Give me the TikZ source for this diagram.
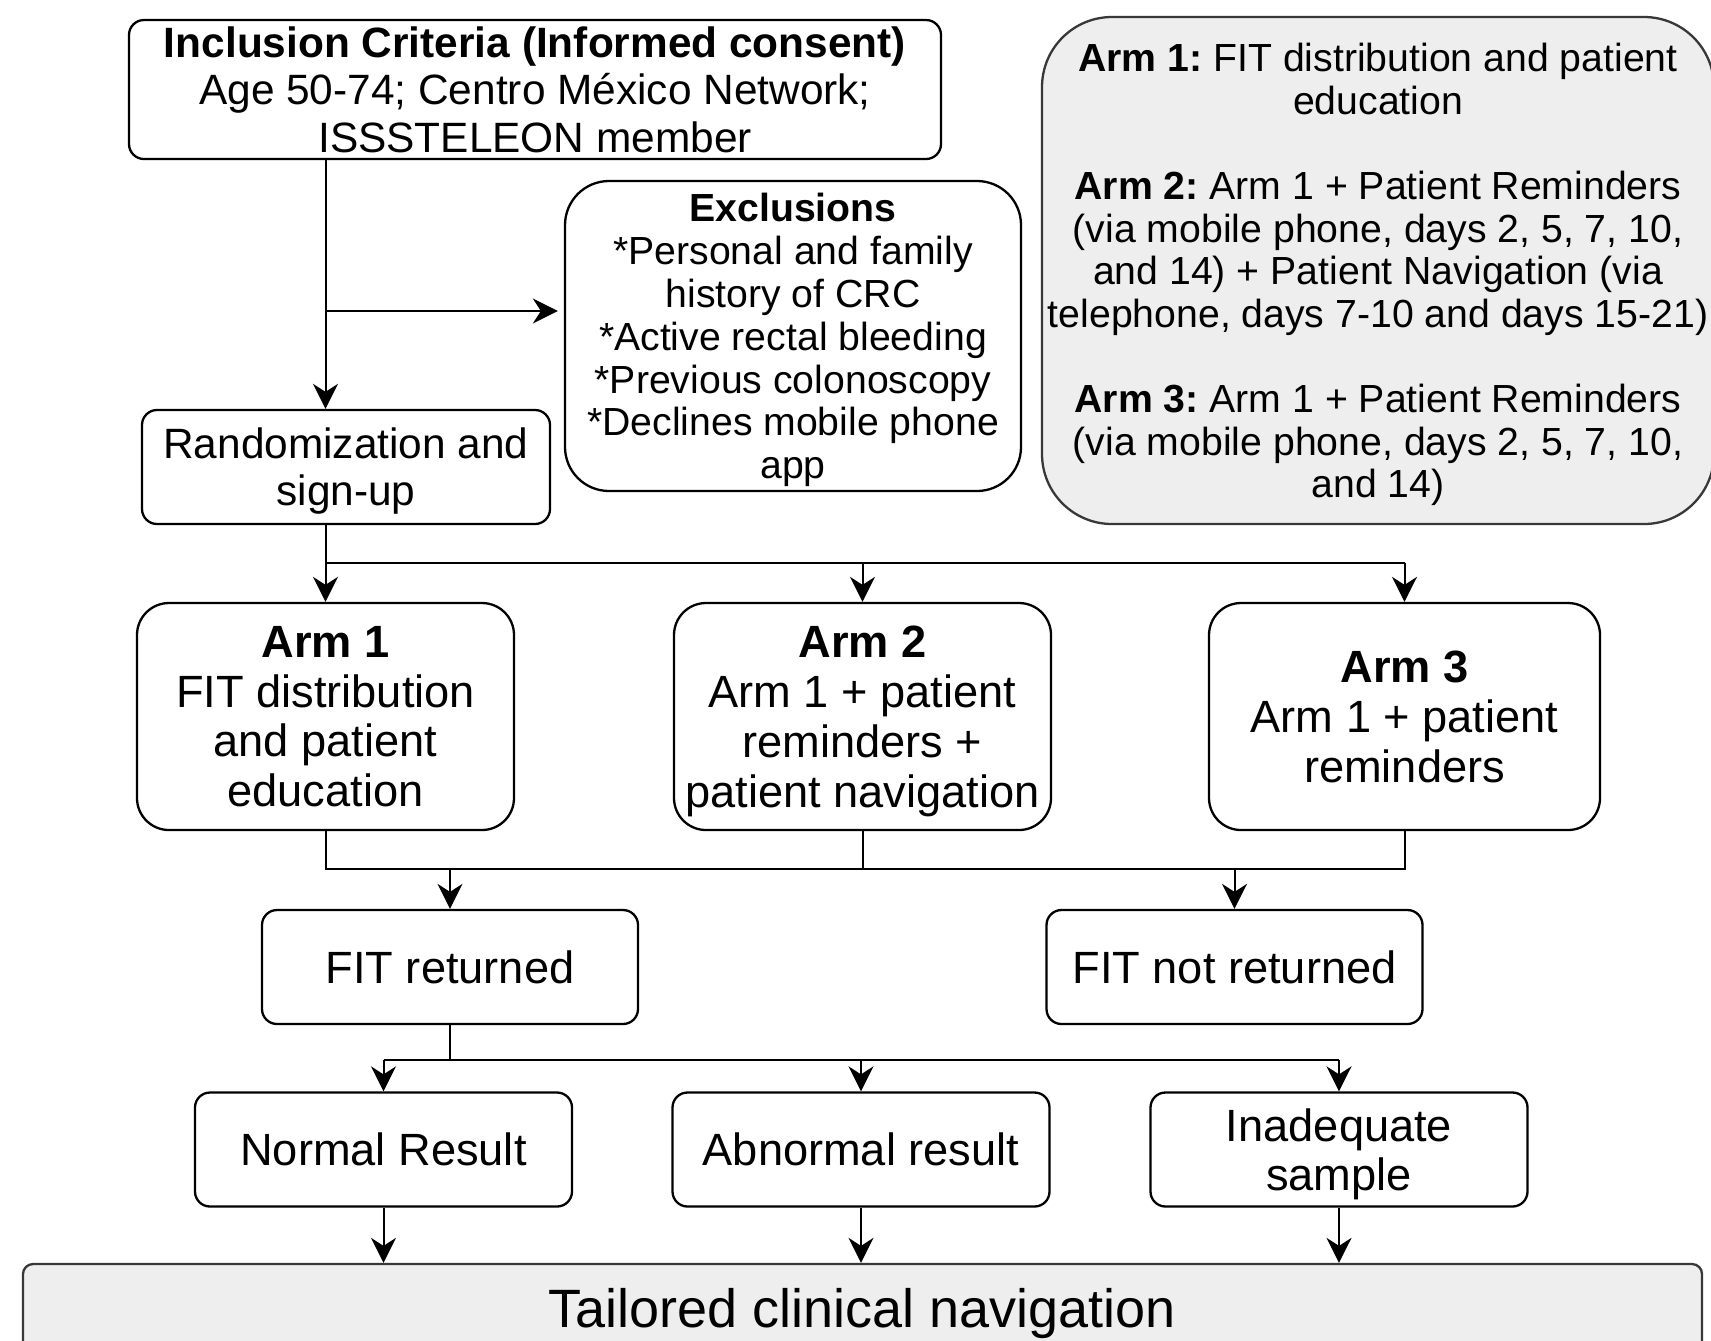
\documentclass[tikz,border=0pt]{standalone}
\usepackage{fontspec}
\setmainfont{Liberation Sans}
\frenchspacing
\usetikzlibrary{arrows.meta,calc}
\definecolor{PanelGray}{HTML}{EEEEEE}
\definecolor{EdgeGray}{HTML}{383838}

\begin{document}
\begin{tikzpicture}[x=0.5pt,y=-0.5pt,
  box/.style={draw,line width=1.15pt,rounded corners=7.5pt,align=center,inner sep=0pt,text depth=0pt},
  armbox/.style={box,rounded corners=16pt,minimum width=188.5pt,minimum height=113.5pt,font=\fontsize{22.6}{24.9}\selectfont},
  outbox/.style={box,minimum width=188pt,minimum height=57pt,font=\fontsize{22.6}{24.5}\selectfont},
  panel/.style={box,draw=EdgeGray,fill=PanelGray},
  arr/.style={-{Stealth[length=12.5pt,width=12.5pt,inset=4pt]},line width=1pt},
  lnk/.style={line width=1pt}
]
\useasboundingbox (0,0) rectangle (1711,1340);
\node[box,minimum width=406pt,minimum height=69.5pt,font=\fontsize{21.2}{23.7}\selectfont] (incl) at (535,89.5) {\textbf{Inclusion Criteria (Informed consent)}\\Age 50-74; Centro México Network;\\ISSSTELEON member};
\node[box,rounded corners=22pt,minimum width=228pt,minimum height=155pt,font=\fontsize{19.6}{21.4}\selectfont] (excl) at (793,336) {\textbf{Exclusions}\\*Personal and family\\history of CRC\\*Active rectal bleeding\\*Previous colonoscopy\\*Declines mobile phone\\app};
\node[panel,rounded corners=35pt,minimum width=336pt,minimum height=253.5pt,font=\fontsize{19.6}{21.3}\selectfont] (legend) at (1378,270.5) {\textbf{Arm 1:} FIT distribution and patient\\education\\[21.3pt]\textbf{Arm 2:} Arm 1 + Patient Reminders\\(via mobile phone, days 2, 5, 7, 10,\\and 14) + Patient Navigation (via\\telephone, days 7-10 and days 15-21)\\[21.3pt]\textbf{Arm 3:} Arm 1 + Patient Reminders\\(via mobile phone, days 2, 5, 7, 10,\\and 14)};
\node[box,minimum width=204pt,minimum height=57pt,font=\fontsize{21.2}{23.5}\selectfont] (rand) at (346,467) {Randomization and\\sign-up};
% the three arms
\node[armbox] (arm1) at (325.5,716.5) {\textbf{Arm 1}\\FIT distribution\\and patient\\education};
\node[armbox] (arm2) at (862.5,716.5) {\textbf{Arm 2}\\Arm 1 + patient\\reminders +\\patient navigation};
\node[armbox,minimum width=195.5pt] (arm3) at (1404.5,716.5) {\textbf{Arm 3}\\Arm 1 + patient\\reminders};
% outcomes
\node[outbox] (fitret) at (450,967) {FIT returned};
\node[outbox] (fitnot) at (1234.5,967) {FIT not returned};
\node[outbox,minimum width=188.5pt] (normal) at (383.5,1149.5) {Normal Result};
\node[outbox,minimum width=188.5pt] (abnormal) at (861,1149.5) {Abnormal result};
\node[outbox,minimum width=188.5pt] (inadeq) at (1339,1149.5) {Inadequate\\sample};
\node[panel,rounded corners=5pt,minimum width=839.5pt,minimum height=44pt,font=\fontsize{27}{30}\selectfont] (nav) at (862.5,1308) {Tailored clinical navigation};
% connectors
\coordinate (split) at (325.5,311);
\coordinate (fork) at (325.5,563);
\coordinate (join) at (0,869);
\coordinate (fan) at (0,1060);
\draw[arr] (incl.south -| arm1) -- (rand.north -| arm1);
\draw[arr] (split) -- ([xshift=-3pt]split -| excl.west);
\draw[arr] (rand.south -| arm1) -- (arm1.north);
\draw[lnk] (fork) -- (fork -| arm3);
\draw[arr] (fork -| arm2) -- (arm2.north);
\draw[arr] (fork -| arm3) -- (arm3.north);
\draw[lnk] (arm1.south) -- (arm1.south |- join) -- (arm3.south |- join) -- (arm3.south);
\draw[lnk] (arm2.south) -- (arm2.south |- join);
\draw[arr] (fitret |- join) -- (fitret.north);
\draw[arr] (fitnot |- join) -- (fitnot.north);
\draw[lnk] (fitret.south) -- (fitret.south |- fan);
\draw[lnk] (normal |- fan) -- (inadeq |- fan);
\draw[arr] (normal |- fan) -- (normal.north);
\draw[arr] (abnormal |- fan) -- (abnormal.north);
\draw[arr] (inadeq |- fan) -- (inadeq.north);
\draw[arr] (normal.south) -- (normal.south |- nav.north);
\draw[arr] (abnormal.south) -- (abnormal.south |- nav.north);
\draw[arr] (inadeq.south) -- (inadeq.south |- nav.north);
\end{tikzpicture}
\end{document}
